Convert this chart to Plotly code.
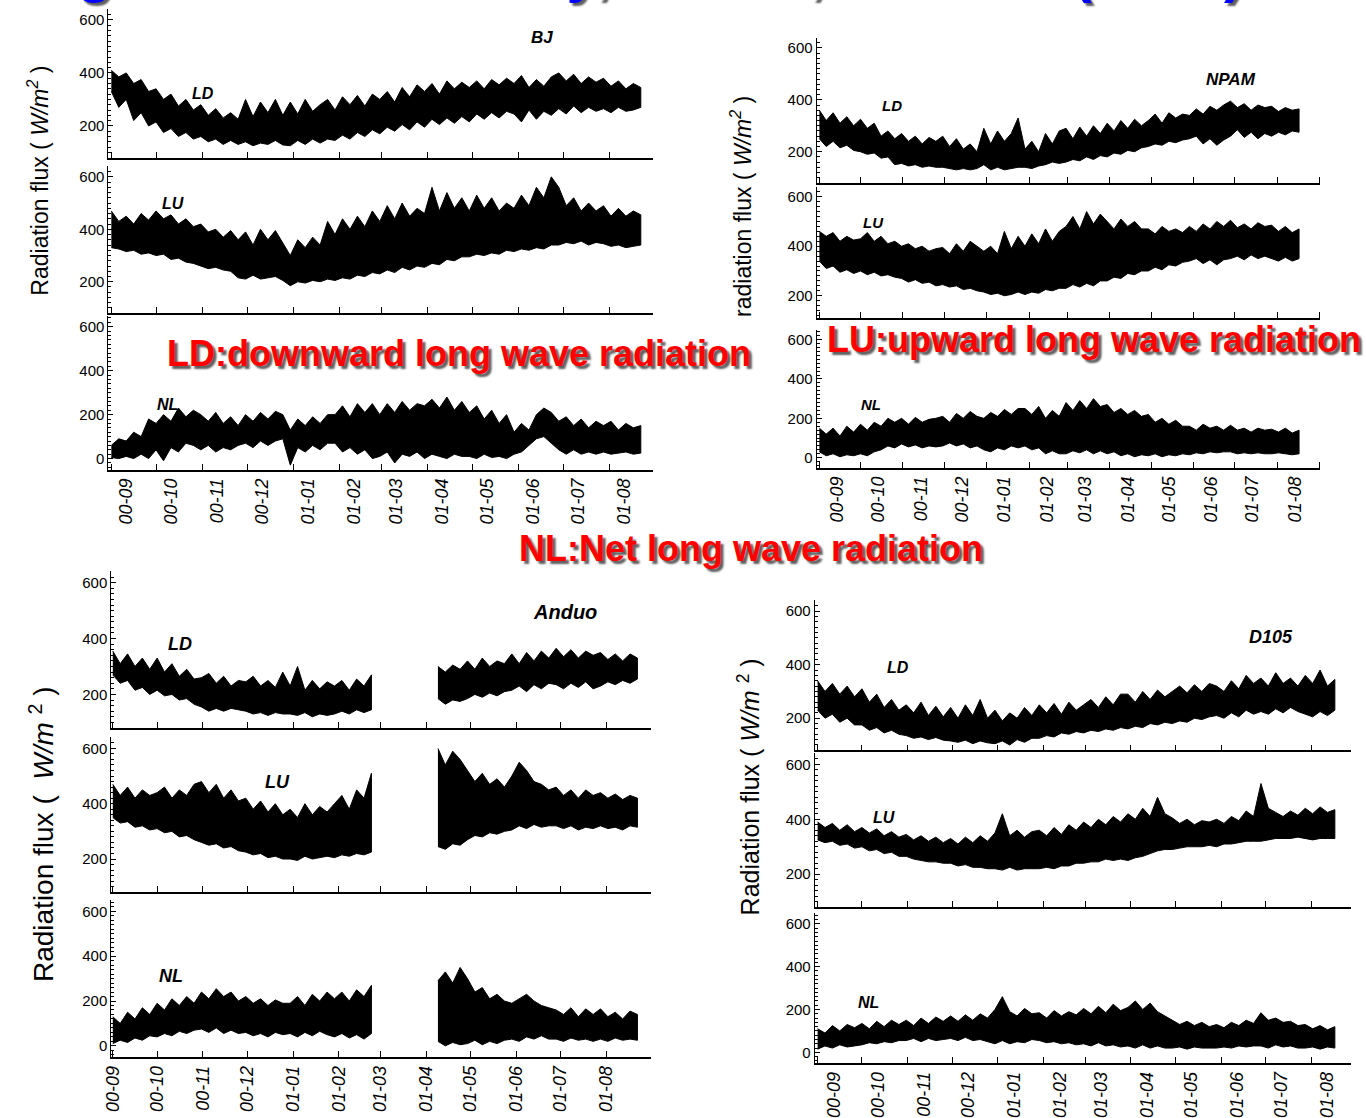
import plotly.graph_objects as go
import pandas as pd

W, H = 1366, 1118
N = None
# 5-day sample dates (1 Sep 2000 - 22 Aug 2001); one row of 6 samples per month below
dates = list(pd.date_range("2000-09-01", periods=72, freq="5D"))
month_labels = ["00-09", "00-10", "00-11", "00-12", "01-01", "01-02",
                "01-03", "01-04", "01-05", "01-06", "01-07", "01-08"]
month_starts = list(pd.date_range("2000-09-01", periods=12, freq="MS"))

# ---------------- BJ ----------------
bj_ld_hi = [410, 385, 400, 360, 375, 330,  340, 300, 320, 275, 300, 260,  280, 240, 265, 230, 250, 225,
            300, 235, 290, 250, 300, 240,  290, 245, 300, 255, 280, 300,  260, 310, 280, 315, 275, 320,
            300, 330, 290, 345, 310, 355,  330, 360, 320, 370, 340, 365,  345, 370, 340, 375, 355, 380,
            360, 390, 345, 375, 350, 385,  400, 370, 395, 360, 385, 365,  380, 350, 370, 340, 360, 345]
bj_ld_lo = [330, 270, 300, 220, 250, 200,  215, 175, 190, 160, 175, 150,  160, 140, 150, 130, 145, 130,
            140, 125, 135, 130, 145, 128,  125, 145, 130, 150, 135, 150,  145, 165, 150, 175, 160, 185,
            170, 195, 180, 205, 185, 215,  195, 225, 205, 230, 210, 235,  215, 245, 225, 250, 230, 255,
            245, 215, 260, 225, 255, 240,  265, 245, 275, 250, 270, 255,  265, 250, 270, 255, 260, 270]
bj_lu_hi = [470, 430, 450, 420, 460, 435,  470, 440, 455, 420, 440, 410,  420, 390, 400, 370, 395, 360,
            390, 340, 400, 360, 395, 350,  300, 360, 330, 370, 340, 430,  380, 440, 400, 450, 410, 470,
            430, 490, 440, 500, 450, 480,  460, 560, 470, 540, 480, 520,  470, 530, 480, 520, 470, 500,
            480, 530, 490, 560, 520, 600,  560, 490, 520, 470, 500, 470,  490, 450, 480, 450, 470, 455]
bj_lu_lo = [330, 325, 315, 320, 305, 310,  300, 305, 285, 290, 275, 270,  260, 250, 255, 245, 240, 215,
            210, 225, 210, 215, 220, 205,  185, 200, 195, 205, 200, 210,  205, 215, 210, 225, 220, 235,
            230, 245, 235, 255, 245, 260,  255, 270, 265, 285, 280, 295,  295, 305, 300, 310, 305, 320,
            315, 325, 320, 330, 325, 340,  340, 350, 345, 355, 340, 350,  345, 335, 340, 330, 335, 340]
bj_nl_hi = [60, 90, 80, 120, 100, 180,  160, 200, 170, 230, 190, 220,  200, 170, 210, 160, 190, 150,
            200, 170, 210, 180, 215, 200,  130, 180, 150, 190, 160, 200,  200, 240, 190, 250, 210, 250,
            200, 250, 210, 260, 220, 250,  240, 270, 230, 280, 220, 260,  210, 240, 180, 220, 160, 200,
            120, 160, 130, 200, 230, 210,  170, 190, 150, 180, 140, 170,  150, 170, 130, 160, 140, 150]
bj_nl_lo = [5, 0, 10, 0, 20, 0,  40, -10, 50, 30, 70, 60,  40, 60, 30, 50, 40, 60,
            70, 50, 80, 60, 80, 90,  -30, 50, 30, 60, 40, 70,  70, 30, 50, 20, 40, 0,
            10, 30, -20, 20, 10, 30,  0, 20, 10, 0, 20, 10,  10, 0, 20, 5, 10, 0,
            20, 30, 60, 90, 100, 70,  40, 20, 40, 20, 30, 20,  30, 20, 25, 30, 20, 25]

# ---------------- NPAM ----------------
np_ld_hi = [360, 320, 350, 310, 335, 300,  325, 290, 310, 260, 280, 250,  270, 240, 260, 230, 255, 240,
            260, 220, 250, 210, 230, 200,  290, 230, 280, 240, 270, 330,  210, 240, 200, 270, 230, 280,
            290, 250, 295, 260, 300, 270,  310, 280, 320, 290, 325, 300,  320, 345, 310, 350, 330, 345,
            340, 365, 345, 375, 360, 380,  395, 370, 385, 360, 380, 370,  375, 355, 370, 360, 365, N]
np_ld_lo = [250, 220, 240, 215, 225, 205,  200, 190, 195, 175, 180, 150,  155, 145, 150, 140, 145, 140,
            140, 135, 130, 135, 130, 135,  150, 130, 140, 130, 135, 140,  140, 135, 145, 150, 160, 155,
            160, 170, 165, 180, 170, 185,  180, 195, 190, 205, 200, 215,  220, 230, 225, 240, 235, 245,
            250, 260, 230, 250, 225, 245,  260, 285, 255, 275, 250, 270,  260, 275, 265, 280, 275, N]
np_lu_hi = [460, 440, 455, 420, 440, 425,  430, 455, 420, 440, 410, 420,  400, 410, 390, 400, 380, 390,
            395, 370, 410, 380, 420, 400,  380, 400, 370, 460, 390, 440,  400, 450, 410, 470, 420, 460,
            480, 520, 470, 540, 490, 530,  500, 470, 510, 480, 500, 470,  470, 450, 480, 460, 470, 455,
            480, 460, 490, 470, 500, 480,  505, 475, 490, 470, 495, 480,  485, 460, 480, 455, 470, N]
np_lu_lo = [340, 310, 320, 295, 305, 290,  300, 285, 295, 280, 285, 275,  270, 255, 265, 250, 255, 240,
            245, 235, 240, 225, 230, 220,  215, 205, 210, 200, 205, 215,  205, 215, 210, 225, 220, 230,
            230, 245, 235, 250, 240, 260,  260, 275, 270, 290, 285, 300,  300, 315, 305, 325, 320, 335,
            340, 350, 330, 345, 325, 345,  350, 360, 345, 365, 350, 360,  350, 340, 355, 340, 350, N]
np_nl_hi = [150, 120, 150, 110, 160, 130,  170, 140, 180, 160, 200, 180,  200, 170, 205, 180, 195, 200,
            210, 180, 225, 200, 235, 210,  200, 230, 210, 245, 220, 250,  250, 220, 260, 200, 240, 210,
            280, 240, 290, 250, 300, 260,  270, 230, 250, 220, 240, 210,  220, 180, 200, 170, 190, 160,
            160, 140, 170, 150, 160, 140,  165, 140, 150, 130, 150, 140,  145, 130, 150, 125, 140, N]
np_nl_lo = [30, 10, 20, 5, 15, 10,  20, 10, 30, 40, 60, 50,  70, 55, 65, 50, 60, 55,
            60, 75, 60, 70, 50, 60,  40, 30, 50, 40, 60, 50,  60, 40, 50, 20, 35, 20,
            20, 35, 25, 40, 20, 35,  20, 30, 10, 20, 5, 15,  10, 20, 5, 15, 10, 20,
            15, 25, 20, 30, 25, 30,  30, 20, 25, 20, 25, 20,  20, 25, 20, 15, 20, N]

# ---------------- Anduo (no data Mar - early Apr 2001) ----------------
ad_ld_hi = [355, 310, 345, 300, 330, 290,  330, 280, 310, 265, 290, 255,  260, 275, 240, 265, 230, 250,
            245, 265, 230, 250, 225, 280,  230, 300, 215, 250, 220, 245,  230, 250, 215, 255, 230, 270,
            N, N, N, N, N, N,  N, N, 300, 280, 305, 290,  320, 290, 330, 300, 320, 310,
            345, 310, 350, 320, 355, 330,  365, 335, 360, 330, 355, 340,  350, 325, 345, 320, 345, 330]
ad_ld_lo = [270, 240, 250, 215, 225, 200,  215, 195, 200, 180, 185, 165,  155, 140, 150, 140, 150, 145,
            140, 130, 135, 125, 135, 130,  130, 125, 135, 120, 130, 125,  130, 140, 130, 145, 135, 145,
            N, N, N, N, N, N,  N, N, 185, 165, 180, 175,  185, 200, 190, 205, 195, 210,
            215, 230, 210, 235, 220, 240,  235, 220, 240, 225, 245, 220,  230, 245, 235, 250, 240, 255]
ad_lu_hi = [470, 430, 460, 420, 450, 430,  440, 460, 420, 450, 430, 470,  480, 440, 470, 420, 450, 410,
            420, 380, 410, 370, 400, 360,  380, 350, 400, 360, 390, 370,  400, 430, 380, 450, 420, 510,
            N, N, N, N, N, N,  N, N, 600, 540, 590, 560,  520, 480, 510, 470, 490, 460,
            500, 550, 520, 480, 470, 450,  460, 430, 450, 420, 450, 430,  440, 420, 435, 415, 430, 420]
ad_lu_lo = [350, 330, 335, 315, 320, 305,  310, 295, 300, 280, 285, 270,  260, 250, 255, 240, 245, 230,
            225, 215, 220, 205, 210, 200,  200, 195, 210, 200, 205, 210,  205, 215, 210, 220, 215, 225,
            N, N, N, N, N, N,  N, N, 245, 235, 255, 250,  270, 285, 280, 295, 290, 300,
            305, 320, 310, 325, 315, 320,  320, 310, 320, 305, 315, 310,  320, 310, 315, 305, 320, 315]
ad_nl_hi = [130, 100, 150, 120, 170, 140,  190, 160, 210, 180, 220, 190,  240, 210, 255, 220, 240, 200,
            220, 190, 210, 180, 205, 190,  190, 220, 180, 230, 200, 240,  210, 240, 200, 250, 220, 270,
            N, N, N, N, N, N,  N, N, 290, 330, 280, 350,  300, 240, 260, 210, 230, 200,
            190, 210, 230, 200, 180, 170,  160, 140, 170, 130, 165, 140,  165, 130, 150, 120, 155, 140]
ad_nl_lo = [10, 25, 15, 35, 25, 45,  40, 55, 45, 65, 55, 70,  75, 60, 80, 55, 70, 55,
            60, 45, 55, 40, 60, 50,  55, 40, 60, 45, 65, 50,  40, 55, 35, 50, 30, 55,
            N, N, N, N, N, N,  N, N, 20, 0, 15, 5,  10, 25, 5, 20, 10, 25,
            30, 20, 40, 30, 45, 30,  30, 20, 35, 25, 30, 20,  30, 20, 35, 25, 30, 25]

# ---------------- D105 ----------------
d1_ld_hi = [340, 300, 330, 290, 320, 280,  310, 260, 290, 240, 270, 230,  250, 220, 260, 210, 245, 205,
            240, 200, 250, 210, 270, 200,  230, 190, 220, 200, 240, 210,  250, 220, 255, 215, 260, 230,
            250, 270, 240, 280, 250, 290,  290, 260, 300, 270, 305, 280,  300, 320, 295, 325, 300, 330,
            320, 300, 340, 310, 360, 330,  350, 320, 370, 330, 350, 320,  360, 330, 380, 320, 345, N]
d1_ld_lo = [230, 200, 215, 185, 200, 175,  175, 155, 165, 145, 155, 140,  135, 125, 130, 120, 128, 118,
            115, 110, 118, 105, 115, 108,  105, 115, 100, 120, 110, 125,  125, 135, 130, 145, 140, 150,
            145, 155, 150, 160, 155, 165,  160, 170, 165, 180, 175, 185,  180, 190, 185, 200, 195, 205,
            210, 200, 220, 205, 230, 215,  225, 215, 235, 220, 240, 225,  215, 205, 225, 210, 230, N]
d1_lu_hi = [390, 370, 385, 360, 380, 355,  370, 350, 365, 340, 355, 335,  345, 325, 340, 320, 335, 315,
            330, 310, 335, 315, 340, 320,  350, 420, 340, 360, 335, 355,  360, 340, 370, 345, 380, 360,
            390, 370, 400, 380, 410, 390,  420, 400, 440, 410, 480, 420,  405, 385, 400, 380, 395, 390,
            400, 385, 410, 395, 430, 410,  530, 440, 425, 410, 430, 415,  440, 420, 445, 425, 435, N]
d1_lu_lo = [325, 315, 320, 305, 310, 295,  300, 285, 290, 275, 280, 265,  265, 255, 250, 245, 245, 240,
            240, 230, 235, 225, 225, 220,  220, 215, 225, 215, 220, 220,  220, 225, 220, 230, 230, 240,
            240, 245, 245, 255, 250, 255,  250, 260, 265, 275, 285, 290,  290, 295, 300, 300, 300, 305,
            300, 310, 310, 315, 320, 320,  320, 325, 330, 330, 330, 335,  330, 325, 330, 330, 330, N]
d1_nl_hi = [110, 90, 125, 100, 130, 115,  135, 110, 145, 120, 150, 130,  150, 125, 160, 135, 165, 145,
            170, 145, 175, 150, 180, 160,  200, 260, 190, 170, 205, 180,  185, 160, 195, 170, 190, 175,
            205, 180, 215, 185, 225, 195,  210, 240, 200, 230, 190, 170,  150, 130, 145, 125, 140, 120,
            130, 115, 140, 125, 150, 135,  185, 150, 160, 140, 145, 125,  130, 110, 125, 105, 120, N]
d1_nl_lo = [15, 30, 20, 35, 25, 30,  35, 45, 40, 50, 45, 55,  55, 65, 50, 65, 55, 60,
            65, 55, 70, 55, 60, 50,  40, 55, 40, 50, 45, 60,  55, 45, 50, 40, 45, 35,
            40, 30, 45, 30, 35, 25,  30, 20, 35, 20, 30, 20,  20, 25, 15, 25, 20, 20,
            20, 25, 20, 30, 25, 30,  30, 20, 35, 25, 30, 20,  20, 25, 15, 25, 20, N]

FONT = "Liberation Sans, Arial, sans-serif"

# layout geometry: pixel boxes for each panel and row; label_day = day of month where labels sit
panels = [
    dict(x0=100, x1=648, xr=["2000-08-30", "2001-08-30"], label_day=11,
         rows=[(bj_ld_hi, bj_ld_lo, (9.4, 157.8), [80, 640]),
               (bj_lu_hi, bj_lu_lo, (166.5, 313.5), [80, 640]),
               (bj_nl_hi, bj_nl_lo, (316, 470), [-50, 650])]),
    dict(x0=813, x1=1320, xr=["2000-08-30", "2001-09-01 12:00"], label_day=14,
         rows=[(np_ld_hi, np_ld_lo, (37.6, 183), [80, 640]),
               (np_lu_hi, np_lu_lo, (187, 318.3), [110, 640]),
               (np_nl_hi, np_nl_lo, (330, 468), [-50, 650])]),
    dict(x0=103, x1=646, xr=["2000-08-31", "2001-08-31"], label_day=1,
         rows=[(ad_ld_hi, ad_ld_lo, (572, 728.6), [80, 640]),
               (ad_lu_hi, ad_lu_lo, (738, 893), [80, 640]),
               (ad_nl_hi, ad_nl_lo, (901, 1058), [-50, 650])]),
    dict(x0=811, x1=1351, xr=["2000-08-30", "2001-08-28"], label_day=12,
         rows=[(d1_ld_hi, d1_ld_lo, (601, 751), [80, 640]),
               (d1_lu_hi, d1_lu_lo, (754, 908), [80, 640]),
               (d1_nl_hi, d1_nl_lo, (914, 1064), [-50, 650])]),
]

fig = go.Figure()
layout = {}
n = 0
for p in panels:
    label_pos = [m + pd.Timedelta(days=p["label_day"] - 1) for m in month_starts]
    for ri, (hi, lo, (py0, py1), yr) in enumerate(p["rows"]):
        n += 1
        xa = "x" if n == 1 else f"x{n}"
        ya = "y" if n == 1 else f"y{n}"
        # split into contiguous segments (gaps = missing data)
        segs, cur = [], []
        for d, h, l in zip(dates, hi, lo):
            if h is None or l is None:
                if cur:
                    segs.append(cur)
                cur = []
            else:
                cur.append((d, h, l))
        if cur:
            segs.append(cur)
        for seg in segs:
            xs = [s[0] for s in seg]
            xpoly = xs + xs[::-1]
            ypoly = [s[1] for s in seg] + [s[2] for s in seg][::-1]
            fig.add_trace(go.Scatter(x=xpoly, y=ypoly, mode="lines", fill="toself",
                                     fillcolor="black", line=dict(color="black", width=1),
                                     xaxis=xa, yaxis=ya, hoverinfo="skip", showlegend=False))
        bottom = ri == 2
        layout["xaxis" if n == 1 else f"xaxis{n}"] = dict(
            domain=[p["x0"] / W, p["x1"] / W], anchor=ya, type="date", range=p["xr"],
            showline=True, linecolor="black", linewidth=1.5,
            tickmode="array", tickvals=label_pos, ticktext=month_labels, ticks="",
            minor=dict(ticks="inside", ticklen=6, tickwidth=1.2, tickcolor="black",
                       tickmode="linear", tick0="2000-09-01", dtick="M1", showgrid=False),
            tickangle=-90, showticklabels=bottom, showgrid=False, zeroline=False,
            tickfont=dict(family=FONT, size=18, color="black", style="italic"))
        tv = [0, 200, 400, 600] if yr[0] < 0 else [200, 400, 600]
        layout["yaxis" if n == 1 else f"yaxis{n}"] = dict(
            domain=[1 - py1 / H, 1 - py0 / H], anchor=xa, range=yr,
            tickmode="array", tickvals=tv, ticktext=[str(v) for v in tv],
            ticks="inside", ticklen=5, tickwidth=1, tickcolor="black",
            minor=dict(ticks="inside", ticklen=3, tickcolor="black", tickmode="linear", tick0=0, dtick=20),
            showline=True, linecolor="black", linewidth=1, showgrid=False, zeroline=False,
            tickfont=dict(family=FONT, size=15, color="black"))

ann = []
def txt(x, y, s, size, **kw):
    d = dict(x=x / W, y=1 - y / H, xref="paper", yref="paper", text=s, showarrow=False,
             font=dict(family=FONT, size=size, color=kw.pop("color", "black"),
                       **{k: v for k, v in kw.items() if k in ("weight", "style", "shadow")}),
             xanchor=kw.get("xanchor", "center"), yanchor=kw.get("yanchor", "middle"),
             textangle=kw.get("textangle", 0))
    ann.append(d)

# station / variable labels
for (x, y, s, sz) in [(537, 38, "BJ", 17), (195, 94, "LD", 16), (165, 204, "LU", 16), (160, 405, "NL", 16),
                      (1230, 80, "NPAM", 17), (889, 106, "LD", 15), (870, 223, "LU", 15), (868, 405, "NL", 15),
                      (560, 613, "Anduo", 20), (172, 645, "LD", 18), (270, 783, "LU", 18), (163, 977, "NL", 18),
                      (1270, 638, "D105", 18), (895, 668, "LD", 16), (881, 818, "LU", 16), (865, 1003, "NL", 16)]:
    txt(x, y, s, sz, weight="bold", style="italic")

# y-axis titles
txt(29, 181, "Radiation flux ( <i>W/m<sup>2</sup></i> )", 23, textangle=-90)
txt(737, 207, "radiation flux ( <i>W/m<sup>2</sup></i> )", 23, textangle=-90)
txt(33, 835, "Radiation flux (  <i>W/m</i> <sup>2</sup> )", 28, textangle=-90)
txt(745, 788, "Radiation flux ( <i>W/m</i> <sup>2</sup> )", 25, textangle=-90)

# red captions
sh = "3px 3px 2px rgba(40,40,40,0.75)"
txt(453, 354, "LD:downward long wave radiation", 36, color="#ff0000", weight="bold", shadow=sh)
txt(1092, 340, "LU:upward long wave radiation", 36, color="#ff0000", weight="bold", shadow=sh)
txt(747, 549, "NL:Net long wave radiation", 36, color="#ff0000", weight="bold", shadow=sh)

# blue slide title (cut off at the top edge, as in the source)
txt(-60, 5, "Using the data of 2000y, Anduo, MS3478 (AWS) and", 58, color="#0000ff",
    weight="bold", shadow=sh, xanchor="left", yanchor="bottom")

fig.update_layout(width=W, height=H, margin=dict(l=0, r=0, t=0, b=0),
                  paper_bgcolor="white", plot_bgcolor="white", showlegend=False,
                  annotations=ann, font=dict(family=FONT), **layout)
fig.write_html("out.html")
